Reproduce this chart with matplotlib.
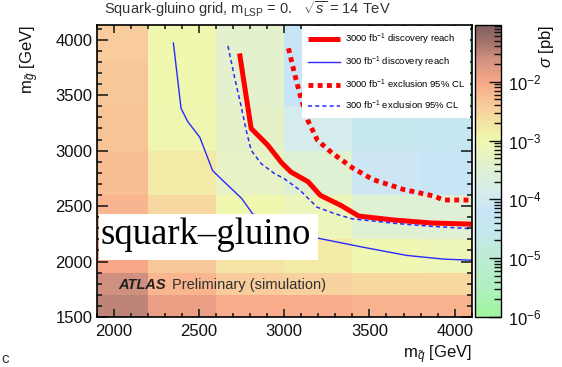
import numpy as np
import matplotlib
matplotlib.use("Agg")
import matplotlib.pyplot as plt
from matplotlib.colors import LinearSegmentedColormap, LogNorm
from matplotlib.patches import Rectangle
from matplotlib.ticker import MultipleLocator, LogLocator, NullFormatter, FixedLocator

plt.rcParams['font.family'] = ['Liberation Sans', 'DejaVu Sans']
plt.rcParams['mathtext.fontset'] = 'custom'
plt.rcParams['mathtext.rm'] = 'Liberation Sans'
plt.rcParams['mathtext.it'] = 'Liberation Sans:italic'
plt.rcParams['mathtext.bf'] = 'Liberation Sans:bold'

# ---- grid of simulated points (GeV) and cross sections (pb) ----
squark_mass = [2000, 2400, 2800, 3200, 3600, 4000]
gluino_mass = [1600, 1800, 2000, 2400, 2800, 3200, 3600, 4000]
sigma_pb = [
    [3.2e-2, 1.3e-2, 8.9e-3, 8.9e-3, 7.9e-3, 7.9e-3],   # m_gluino = 1600
    [2.5e-2, 7.1e-3, 4.0e-3, 3.5e-3, 2.8e-3, 2.8e-3],   # 1800
    [1.0e-2, 4.5e-3, 2.0e-3, 1.6e-3, 8.9e-4, 7.9e-4],   # 2000
    [7.1e-3, 2.8e-3, 1.0e-3, 7.1e-4, 3.2e-4, 2.8e-4],   # 2400
    [5.6e-3, 1.6e-3, 5.0e-4, 3.2e-4, 7.9e-5, 5.0e-5],   # 2800
    [5.0e-3, 1.1e-3, 4.5e-4, 1.3e-4, 3.2e-5, 4.0e-5],   # 3200
    [4.5e-3, 1.0e-3, 4.0e-4, 6.3e-5, 2.5e-5, 6.3e-6],   # 3600
    [4.0e-3, 1.0e-3, 4.0e-4, 5.0e-5, 3.2e-5, 6.3e-6],   # 4000
]

# ---- reach / exclusion contours (m_squark, m_gluino) ----
disc3000_x = [2738, 2806, 2904, 2985, 3040, 3140, 3212, 3333, 3437, 3640, 3860, 4100]
disc3000_y = [3877, 3200, 3049, 2890, 2807, 2720, 2597, 2506, 2410, 2375, 2348, 2337]

disc300_x = [2350, 2395, 2435, 2505, 2580, 2630, 2750, 2815, 3200, 3460, 3720, 3935, 4100]
disc300_y = [3970, 3380, 3260, 3120, 2820, 2745, 2570, 2430, 2210, 2130, 2055, 2022, 2012]

excl3000_x = [3025, 3070, 3099, 3138, 3195, 3280, 3400, 3520, 3700, 3880, 3935, 4100]
excl3000_y = [3923, 3636, 3470, 3275, 3094, 2980, 2845, 2740, 2650, 2590, 2555, 2555]

excl300_x = [2670, 2708, 2748, 2777, 2806, 2865, 2943, 2998, 3095, 3193, 3300, 3400, 3660, 3860, 4100]
excl300_y = [3944, 3666, 3395, 3184, 3003, 2883, 2793, 2750, 2640, 2490, 2430, 2385, 2343, 2318, 2296]

legend_labels = [
    "3000 fb$^{-1}$ discovery reach",
    "300 fb$^{-1}$ discovery reach",
    "3000 fb$^{-1}$ exclusion 95% CL",
    "300 fb$^{-1}$ exclusion 95% CL",
]


def bin_edges(centers):
    c = np.asarray(centers, dtype=float)
    mid = 0.5 * (c[1:] + c[:-1])
    return np.concatenate([[c[0] - (mid[0] - c[0])], mid, [c[-1] + (c[-1] - mid[-1])]])


# palette: green -> light blue -> pale yellow -> salmon -> brown
vmin, vmax = 1e-6, 10 ** -1.035
anchors = [
    (-6.0, "#a0f4a0"), (-5.5, "#b0f0c0"), (-5.0, "#bcecd4"), (-4.6, "#c4e8ea"),
    (-4.2, "#c8e4f8"), (-3.9, "#d4ecec"), (-3.5, "#e0f0d4"), (-3.0, "#f0f8b0"),
    (-2.7, "#f4e4a4"), (-2.4, "#f8cc9c"), (-2.0, "#f8a888"), (-1.6, "#d09080"),
    (-1.3, "#a07068"), (np.log10(vmax), "#806060"),
]
lo, hi = np.log10(vmin), np.log10(vmax)
cmap = LinearSegmentedColormap.from_list(
    "xsec", [((v - lo) / (hi - lo), c) for v, c in anchors])
norm = LogNorm(vmin=vmin, vmax=vmax)

W, H = 562, 367
fig = plt.figure(figsize=(W / 100, H / 100), dpi=100)
ax = fig.add_axes([96.7 / W, 1 - 317 / H, 375 / W, 292 / H])
cax = fig.add_axes([475 / W, 1 - 317 / H, 26 / W, 292 / H])

mesh = ax.pcolormesh(bin_edges(squark_mass), bin_edges(gluino_mass),
                     np.array(sigma_pb), cmap=cmap, norm=norm,
                     shading="flat", zorder=1)

red = "#ff0000"
blue = "#2a2aff"
l1, = ax.plot(disc3000_x, disc3000_y, color=red, lw=3.6, solid_capstyle="butt", zorder=1.5)
l2, = ax.plot(disc300_x, disc300_y, color=blue, lw=1.0, zorder=1.5)
l3, = ax.plot(excl3000_x, excl3000_y, color=red, lw=3.5, dashes=(1.0, 0.9),
              dash_capstyle="butt", zorder=1.5)
l4, = ax.plot(excl300_x, excl300_y, color=blue, lw=1.1, dashes=(2.7, 2.0), zorder=1.5)

ax.set_xlim(1900, 4100)
ax.set_ylim(1500, 4133)

ax.xaxis.set_major_locator(FixedLocator([2000, 2500, 3000, 3500, 4000]))
ax.xaxis.set_minor_locator(MultipleLocator(100))
ax.yaxis.set_major_locator(FixedLocator([1500, 2000, 2500, 3000, 3500, 4000]))
ax.yaxis.set_minor_locator(MultipleLocator(100))
ax.tick_params(axis="both", which="both", direction="in", top=True, right=True,
               width=1.1, colors="#111111", labelsize=12)
ax.tick_params(axis="x", which="major", length=6, pad=5)
ax.tick_params(axis="x", which="minor", length=3)
ax.tick_params(axis="y", which="major", length=8, pad=3)
ax.tick_params(axis="y", which="minor", length=3.5)
for s in ax.spines.values():
    s.set_linewidth(1.2)
    s.set_zorder(2.6)

leg = ax.legend([l1, l2, l3, l4], legend_labels, loc="upper right",
                bbox_to_anchor=(1.0, 1.0), borderaxespad=0.15, frameon=True,
                fancybox=False, edgecolor="none", facecolor="white", framealpha=1,
                fontsize=6.8, handlelength=3.4, handletextpad=0.5,
                labelspacing=0.8, borderpad=0.6)
leg.set_zorder(2.2)

# label box for the production channel
ax.add_patch(Rectangle((0.006, 0.195), 0.584, 0.158, transform=ax.transAxes,
                       facecolor="white", edgecolor="none", zorder=2.3))
ax.text(0.010, 0.249, "squark\u2013gluino", transform=ax.transAxes,
        ha="left", va="baseline", fontsize=26.5, family="Liberation Serif",
        color="black", zorder=2.4)

ax.text(0.057, 0.095, "ATLAS", transform=ax.transAxes, ha="left", va="baseline",
        fontsize=10.5, fontweight="bold", fontstyle="italic", color="#202020", zorder=2.4)
ax.text(0.200, 0.095, "Preliminary (simulation)", transform=ax.transAxes,
        ha="left", va="baseline", fontsize=10.5, color="#303030", zorder=2.4)

# colour scale
cb = fig.colorbar(mesh, cax=cax)
cb.outline.set_linewidth(1.0)
cax.yaxis.set_ticks_position("right")
cax.yaxis.set_major_locator(LogLocator(base=10, numticks=10))
cax.yaxis.set_minor_locator(LogLocator(base=10, subs=np.arange(2, 10), numticks=20))
cax.yaxis.set_minor_formatter(NullFormatter())
cax.tick_params(which="both", direction="in", width=1.0, colors="#111111", labelsize=12)
cax.tick_params(which="major", length=9, pad=5)
cax.tick_params(which="minor", length=5)

# axis titles
fig.text(30 / W, 1 - 25 / H, r"m$_{\tilde{g}}$ [GeV]", rotation=90, ha="center",
         va="top", fontsize=12, color="#111111")
fig.text(472 / W, 1 - 358 / H, r"m$_{\tilde{q}}$ [GeV]", ha="right", va="baseline",
         fontsize=12, color="#111111")
fig.text(546 / W, 1 - 25 / H, r"$\sigma$ [pb]", rotation=90, ha="center", va="top",
         fontsize=12, color="#111111")
fig.text(104 / W, 1 - 14 / H,
         r"Squark-gluino grid, m$_{\rm LSP}$ = 0.   $\sqrt{s}$ = 14 TeV",
         ha="left", va="baseline", fontsize=10.5, color="#333333")
fig.text(1 / W, 1 - 363 / H, "c", ha="left", va="baseline", fontsize=11, color="#333333")

fig.savefig("out.png", dpi=100)
